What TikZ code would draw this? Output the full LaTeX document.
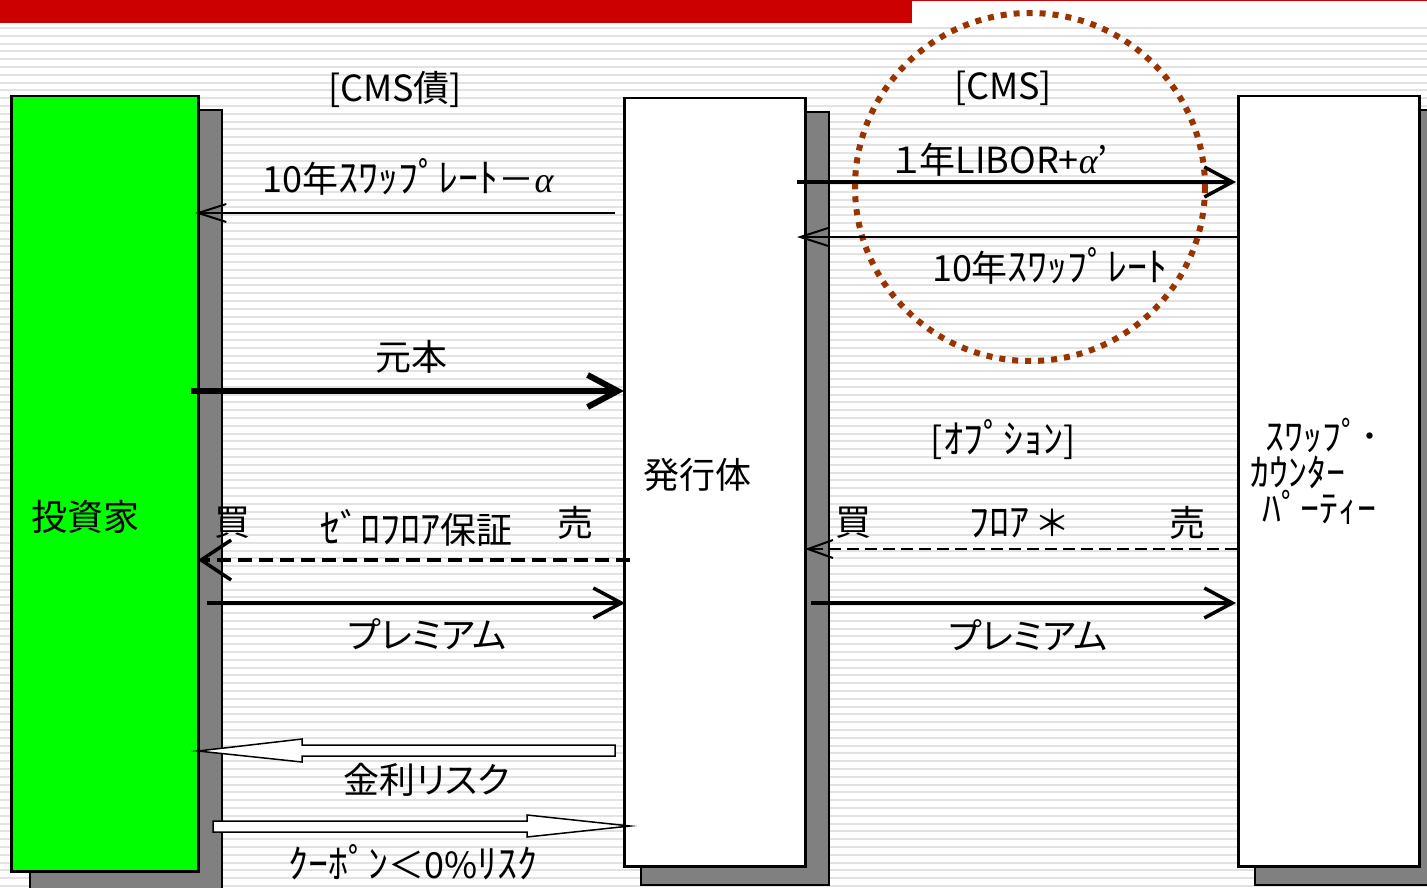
\documentclass[tikz,border=0pt]{standalone}
\usepackage{fontspec}
\setmainfont{Noto Sans CJK JP}[RawFeature=+palt]
\newfontfamily\grk{Liberation Serif}
\usetikzlibrary{arrows.meta}
\definecolor{redbar}{HTML}{CC0000}
\definecolor{stripecol}{HTML}{E2E2E2}
\definecolor{shadowcol}{HTML}{808080}
\definecolor{greenbox}{HTML}{00FF00}
\definecolor{dotcol}{HTML}{993300}
\newcommand\hwk[1]{{\fontsize{40}{44}\selectfont #1}}
\newcommand\galpha{{\grk\itshape α}}
\tikzset{
  box/.style={draw=black, line width=2.5pt, fill=white, inner sep=0pt, anchor=north west},
  shadowbox/.style={draw=black, line width=1.2pt, fill=shadowcol},
  lbl/.style={inner sep=0pt, font=\fontsize{36}{40}\selectfont},
  thinarr/.style={line width=2pt, -{Straight Barb[length=28pt,width=18pt]}},
  thickarr/.style={line width=6pt, -{Straight Barb[length=30pt,width=32pt]}},
  medarr/.style={line width=3.5pt, -{Straight Barb[length=28pt,width=30pt]}},
  dasharr/.style={line width=3.5pt, dash pattern=on 14pt off 7pt, -{Straight Barb[length=30pt,width=40pt]}},
  thindash/.style={line width=2pt, dash pattern=on 12pt off 6pt, -{Straight Barb[length=25pt,width=18pt]}},
  hollow/.style={draw=black, line width=1.5pt, fill=white, line join=miter},
}
\begin{document}
\begin{tikzpicture}[x=1pt,y=-1pt]
\useasboundingbox (0,0) rectangle (1427,888);
\clip (0,0) rectangle (1427,888);
% background
\fill[white] (0,0) rectangle (1427,888);
\foreach \k in {0,...,110} \fill[stripecol] (0,{27+7.8*\k}) rectangle (1427,{29+7.8*\k});
\fill[redbar] (0,0) rectangle (912,23);
\fill[redbar] (0,0) rectangle (1427,1.5);
% shadows
\draw[shadowbox] (30,110) rectangle (222,892);
\draw[shadowbox] (641,112) rectangle (829,885);
\draw[shadowbox] (1255,110) rectangle (1443,885);
% boxes
\node[box, fill=greenbox, minimum width=187pt, minimum height=775pt] (inv) at (10,95) {};
\node[box, minimum width=181pt, minimum height=768pt] (iss) at (623,97) {};
\node[box, minimum width=181pt, minimum height=770pt] (cp) at (1237,95) {};
% box labels
\node[lbl] (invlbl) at (85,517) {投資家};
\node[lbl] (isslbl) at (697,475) {発行体};
\node[lbl, align=left, anchor=north west, font=\fontsize{38}{36}\selectfont] (cplbl) at (1250,418) {\hspace*{15pt}ｽﾜｯﾌﾟ･\\ｶｳﾝﾀｰ\\\hspace*{12pt}ﾊﾟｰﾃｨｰ};
% dotted circle
\draw[dotcol, line width=6pt, dash pattern=on 6pt off 7pt] (1030,187) ellipse [x radius=175, y radius=174];
% left side labels
\node[lbl] (cmsbond) at (395,89) {[CMS債]};
\node[lbl] (swapalpha) at (408,177) {10年\hwk{ｽﾜｯﾌﾟﾚｰﾄ}－\galpha};
\node[lbl] (principal) at (411,357) {元本};
\node[lbl] (buyL) at (232,523) {買};
\node[lbl] (zerofloor) at (416,528) {\hwk{ｾﾞﾛﾌﾛｱ}保証};
\node[lbl] (sellL) at (575,523) {売};
\node[lbl] (premL) at (427,634) {プレミアム};
\node[lbl] (irrisk) at (427,780) {金利リスク};
\node[lbl] (couponrisk) at (413,862) {\hwk{ｸｰﾎﾟﾝ}＜0\%\hwk{ﾘｽｸ}};
% right side labels
\node[lbl] (cms) at (1003,88) {[CMS]};
\node[lbl] (libor) at (1000,160) {１年LIBOR+\galpha’};
\node[lbl] (swap10) at (1050,266) {10年\hwk{ｽﾜｯﾌﾟﾚｰﾄ}};
\node[lbl] (option) at (1003,440) {[\hwk{ｵﾌﾟｼｮﾝ}]};
\node[lbl] (buyR) at (853,523) {買};
\node[lbl] (floor) at (1018,523) {\hwk{ﾌﾛｱ} ＊};
\node[lbl] (sellR) at (1187,523) {売};
\node[lbl] (premR) at (1028,635) {プレミアム};
% connector end points
\coordinate (a1s) at (615,213); \coordinate (a1e) at (195,213);
\coordinate (a2s) at (191,391); \coordinate (a2e) at (624,391);
\coordinate (a3s) at (630,560); \coordinate (a3e) at (198,560);
\coordinate (a4s) at (207,603); \coordinate (a4e) at (625,603);
\coordinate (b1s) at (797,182); \coordinate (b1e) at (1236,182);
\coordinate (b2s) at (1237,237); \coordinate (b2e) at (797,237);
\coordinate (b3s) at (1237,549); \coordinate (b3e) at (805,549);
\coordinate (b4s) at (811,603); \coordinate (b4e) at (1236,603);
% left connectors
\draw[thinarr] (a1s) -- (a1e);
\draw[thickarr] (a2s) -- (a2e);
\draw[dasharr] (a3s) -- (a3e);
\draw[medarr] (a4s) -- (a4e);
% right connectors
\draw[medarr] (b1s) -- (b1e);
\draw[thinarr] (b2s) -- (b2e);
\draw[thindash] (b3s) -- (b3e);
\draw[medarr] (b4s) -- (b4e);
% hollow block arrows
\draw[hollow] (615,745) -- (302,745) -- (302,739) -- (198,751) -- (302,762) -- (302,756) -- (615,756) -- cycle;
\draw[hollow] (213,821) -- (527,821) -- (527,815) -- (630,826) -- (527,837) -- (527,832) -- (213,832) -- cycle;
\end{tikzpicture}
\end{document}
